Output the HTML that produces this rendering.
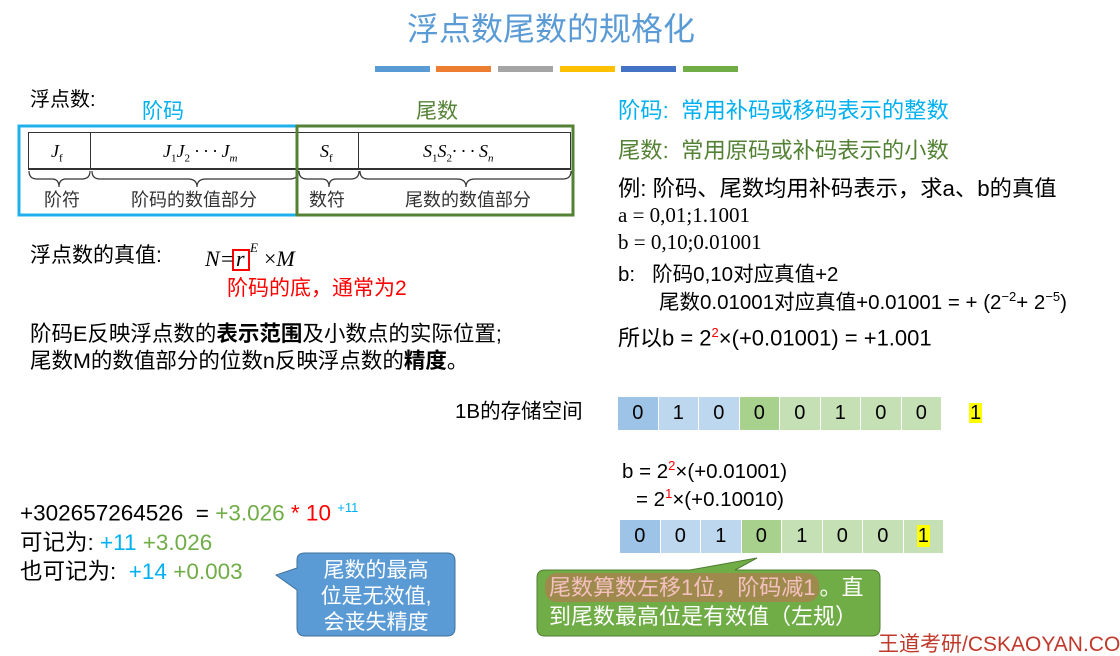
<!DOCTYPE html>
<html><head><meta charset="utf-8"><style>
*{margin:0;padding:0;box-sizing:border-box}
body{width:1120px;height:644px;background:#fff;position:relative;overflow:hidden;font-family:"Liberation Sans","Noto Sans CJK SC",sans-serif;color:#000}
.a{position:absolute;white-space:nowrap;line-height:1}
.bar{position:absolute;top:66px;height:6px;width:55px}
.cell{position:absolute;height:33px;width:40.5px;text-align:center;line-height:33px;font-size:20px;border-right:1px solid #fff}
.serif{font-family:"Liberation Serif","Noto Serif CJK SC",serif}
</style></head><body>
<div class="a" style="left:0;width:1102px;text-align:center;top:13px;font-size:32px;color:#5b9bd5">浮点数尾数的规格化</div>
<div class="bar" style="left:375px;background:#5b9bd5"></div>
<div class="bar" style="left:436px;background:#ed7d31"></div>
<div class="bar" style="left:498px;background:#a5a5a5"></div>
<div class="bar" style="left:560px;background:#ffc000"></div>
<div class="bar" style="left:621px;background:#4472c4"></div>
<div class="bar" style="left:683px;background:#70ad47"></div>

<div class="a" style="left:30px;top:90px;font-size:20px">浮点数:</div>
<div class="a" style="left:142px;top:101px;font-size:21px;color:#00b0f0">阶码</div>
<div class="a" style="left:416px;top:101px;font-size:21px;color:#548235">尾数</div>
<div style="position:absolute;left:28px;top:132px;width:543px;height:38px;border:1.5px solid #333;border-bottom-width:2px"></div>
<div style="position:absolute;left:90px;top:132px;width:1px;height:38px;background:#333"></div>
<div style="position:absolute;left:358px;top:132px;width:1px;height:38px;background:#333"></div>
<svg style="position:absolute;left:0;top:0" width="1120" height="644">
<g fill="none" stroke="#333" stroke-width="1.2">
<path d="M29 171 q0 8 8 8 h15 q7 0 7 8 q0-8 7-8 h16 q8 0 8-8"/>
<path d="M92 171 q0 8 8 8 h88 q9 0 9 8 q0-8 9-8 h84 q8 0 8-8"/>
<path d="M299 171 q0 8 8 8 h15 q7 0 7 8 q0-8 7-8 h15 q8 0 8-8"/>
<path d="M360 171 q0 8 8 8 h89 q9 0 9 8 q0-8 9-8 h88 q8 0 8-8"/>
</g>
<rect x="19" y="126" width="278" height="89" fill="none" stroke="#1fb0ec" stroke-width="3"/>
<rect x="297" y="126" width="276" height="89" fill="none" stroke="#548235" stroke-width="3"/>
<rect x="233" y="250" width="16" height="20" fill="none" stroke="#ff0000" stroke-width="2"/>
<path d="M297 560 Q297 553 305 553 H447 Q455 553 455 561 V628 Q455 636 447 636 H305 Q297 636 297 628 V590 L276 575 L297 568 Z" fill="#5b9bd5" stroke="#41719c" stroke-width="1"/>
<path d="M545 570 H690 L757 558 L735 570 H872 Q880 570 880 578 V628 Q880 636 872 636 H545 Q537 636 537 628 V578 Q537 570 545 570 Z" fill="#70ad47" stroke="#507e32" stroke-width="1"/>
</svg>
<div class="a serif" style="left:51px;top:142px;font-size:18px;font-style:italic">J<sub style="font-size:11px;font-style:normal">f</sub></div>
<div class="a serif" style="left:163px;top:142px;font-size:18px;font-style:italic">J<sub style="font-size:11px;font-style:normal">1</sub>J<sub style="font-size:11px;font-style:normal">2</sub> · · · J<sub style="font-size:11px">m</sub></div>
<div class="a serif" style="left:320px;top:142px;font-size:18px;font-style:italic">S<sub style="font-size:11px;font-style:normal">f</sub></div>
<div class="a serif" style="left:423px;top:142px;font-size:18px;font-style:italic">S<sub style="font-size:11px;font-style:normal">1</sub>S<sub style="font-size:11px;font-style:normal">2</sub>· · · S<sub style="font-size:11px">n</sub></div>
<div class="a" style="left:44px;top:191px;font-size:18px;color:#333">阶符</div>
<div class="a" style="left:131px;top:191px;font-size:18px;color:#333">阶码的数值部分</div>
<div class="a" style="left:309px;top:191px;font-size:18px;color:#333">数符</div>
<div class="a" style="left:405px;top:191px;font-size:18px;color:#333">尾数的数值部分</div>

<div class="a" style="left:30px;top:245px;font-size:21px">浮点数的真值:</div>
<div class="a serif" style="left:205px;top:248px;font-size:22px;font-style:italic">N=</div>
<div class="a serif" style="left:236px;top:248px;font-size:22px;font-style:italic">r</div>
<div class="a serif" style="left:250px;top:241px;font-size:13px;font-style:italic">E</div>
<div class="a serif" style="left:264px;top:248px;font-size:22px;font-style:italic"><span style="font-style:normal">×</span>M</div>
<div class="a" style="left:227px;top:278px;font-size:21px;color:#ff0000">阶码的底，通常为2</div>
<div class="a" style="left:30px;top:324px;font-size:21.5px">阶码E反映浮点数的<b>表示范围</b>及小数点的实际位置;</div>
<div class="a" style="left:30px;top:351px;font-size:21.5px">尾数M的数值部分的位数n反映浮点数的<b>精度</b>。</div>

<div class="a" style="left:618px;top:100px;font-size:22.3px;color:#00b0f0">阶码:&nbsp; 常用补码或移码表示的整数</div>
<div class="a" style="left:618px;top:140px;font-size:22.3px;color:#548235">尾数:&nbsp; 常用原码或补码表示的小数</div>
<div class="a" style="left:618px;top:178px;font-size:22.3px">例:&nbsp;阶码、尾数均用补码表示，求a、b的真值</div>
<div class="a serif" style="left:618px;top:205px;font-size:21px">a = 0,01;1.1001</div>
<div class="a serif" style="left:618px;top:232px;font-size:21px">b = 0,10;0.01001</div>
<div class="a" style="left:618px;top:265px;font-size:20.5px">b:&nbsp;&nbsp; 阶码0,10对应真值+2</div>
<div class="a" style="left:659px;top:290px;font-size:20.5px">尾数0.01001对应真值+0.01001 = + (2<sup style="font-size:13px">−2</sup>+ 2<sup style="font-size:13px">−5</sup>)</div>
<div class="a" style="left:618px;top:326px;font-size:22px">所以b = 2<sup style="font-size:13px;color:#f00">2</sup>×(+0.01001) = +1.001</div>

<div class="a" style="left:455px;top:402px;font-size:20.5px">1B的存储空间</div>
<div class="cell" style="left:618px;top:397px;background:#9dc3e6">0</div>
<div class="cell" style="left:658.5px;top:397px;background:#bdd7ee">1</div>
<div class="cell" style="left:699px;top:397px;background:#bdd7ee">0</div>
<div class="cell" style="left:739.5px;top:397px;background:#a9d18e">0</div>
<div class="cell" style="left:780px;top:397px;background:#c5e0b4">0</div>
<div class="cell" style="left:820.5px;top:397px;background:#c5e0b4">1</div>
<div class="cell" style="left:861px;top:397px;background:#c5e0b4">0</div>
<div class="cell" style="left:901.5px;top:397px;background:#c5e0b4">0</div>
<div class="a" style="left:969px;top:403px;font-size:20px;background:#ffff00;padding:0 1px">1</div>

<div class="a" style="left:622px;top:459px;font-size:20.5px">b = 2<sup style="font-size:13px;color:#f00">2</sup>×(+0.01001)</div>
<div class="a" style="left:636px;top:487px;font-size:20.5px">= 2<sup style="font-size:13px;color:#f00">1</sup>×(+0.10010)</div>
<div class="cell" style="left:620px;top:520px;background:#9dc3e6">0</div>
<div class="cell" style="left:660.5px;top:520px;background:#bdd7ee">0</div>
<div class="cell" style="left:701px;top:520px;background:#bdd7ee">1</div>
<div class="cell" style="left:741.5px;top:520px;background:#a9d18e">0</div>
<div class="cell" style="left:782px;top:520px;background:#c5e0b4">1</div>
<div class="cell" style="left:822.5px;top:520px;background:#c5e0b4">0</div>
<div class="cell" style="left:863px;top:520px;background:#c5e0b4">0</div>
<div class="cell" style="left:903.5px;top:520px;background:#c5e0b4"><span style="background:#ff0;padding:0 1px">1</span></div>

<div class="a" style="left:545px;top:577px;font-size:22px;color:#fff"><span style="color:#f4c0c0;background:#9e8a4c;border-radius:12px;padding:2px 4px">尾数算数左移1位，阶码减1</span>。直</div>
<div class="a" style="left:549px;top:606px;font-size:22px;color:#fff">到尾数最高位是有效值（左规）</div>

<div class="a" style="left:20px;top:501px;font-size:22.5px">+302657264526&nbsp; = <span style="color:#70ad47">+3.026</span> <span style="color:#f00">* 10</span> <sup style="font-size:13px;color:#00b0f0">+11</sup></div>
<div class="a" style="left:20px;top:532px;font-size:22.5px">可记为: <span style="color:#00b0f0">+11</span> <span style="color:#70ad47">+3.026</span></div>
<div class="a" style="left:20px;top:561px;font-size:22.5px">也可记为:&nbsp; <span style="color:#00b0f0">+14</span> <span style="color:#70ad47">+0.003</span></div>
<div class="a" style="left:306px;top:558px;font-size:21px;color:#fff;line-height:26px;text-align:center;width:140px">尾数的最高<br>位是无效值,<br>会丧失精度</div>

<div class="a" style="left:878px;top:634px;font-size:21px;color:#c0392b">王道考研/CSKAOYAN.COM</div>
</body></html>
